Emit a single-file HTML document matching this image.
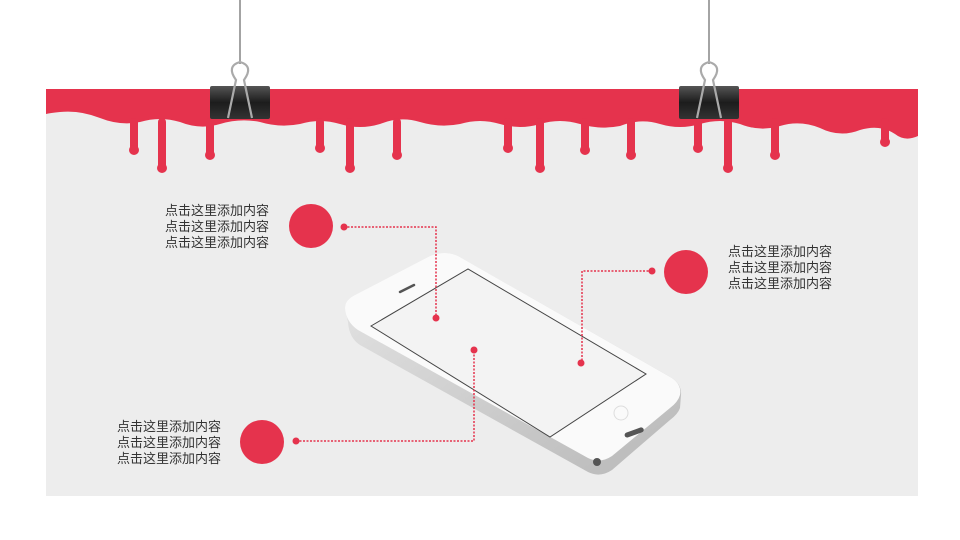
<!DOCTYPE html>
<html><head><meta charset="utf-8"><style>
html,body{margin:0;padding:0;background:#fff;width:960px;height:540px;overflow:hidden}
svg{display:block}
text{font-family:"Liberation Sans","Noto Sans CJK SC",sans-serif;font-size:13px;fill:#333}
</style></head><body>
<svg width="960" height="540" viewBox="0 0 960 540" xmlns="http://www.w3.org/2000/svg">
<defs>
<linearGradient id="clip" x1="0" y1="0" x2="0" y2="1"><stop offset="0" stop-color="#555"/><stop offset="0.5" stop-color="#1c1c1c"/><stop offset="1" stop-color="#333"/></linearGradient>
<linearGradient id="side" x1="0" y1="0" x2="1" y2="1"><stop offset="0" stop-color="#e6e6e6"/><stop offset="1" stop-color="#b8b8b8"/></linearGradient>
</defs>
<rect x="46" y="89" width="872" height="407" fill="#ededed"/>
<g fill="#e5334d">
<path d="M46 89H918V136Q905 142 895 134Q880 124 860 130Q840 138 820 128Q800 120 780 126Q760 132 740 124Q720 118 700 124Q680 130 660 124Q640 118 620 126Q600 130 580 124Q560 118 540 124Q520 130 500 124Q480 118 460 124Q440 128 420 122Q400 116 380 124Q360 130 340 124Q320 118 300 124Q280 128 260 122Q240 118 220 124Q200 130 180 122Q160 116 140 122Q120 126 100 118Q80 110 60 112Q50 113 46 114Z"/>
<g stroke="#e5334d" stroke-width="8" stroke-linecap="round">
<line x1="134" y1="122" x2="134" y2="150"/><line x1="162" y1="122" x2="162" y2="168"/><line x1="210" y1="122" x2="210" y2="155"/>
<line x1="320" y1="122" x2="320" y2="148"/><line x1="350" y1="122" x2="350" y2="168"/><line x1="397" y1="122" x2="397" y2="155"/>
<line x1="508" y1="122" x2="508" y2="148"/><line x1="540" y1="122" x2="540" y2="168"/><line x1="585" y1="122" x2="585" y2="150"/>
<line x1="631" y1="122" x2="631" y2="155"/><line x1="698" y1="122" x2="698" y2="148"/><line x1="728" y1="122" x2="728" y2="168"/>
<line x1="775" y1="122" x2="775" y2="155"/><line x1="885" y1="122" x2="885" y2="142"/>
</g>
<g>
<circle cx="134" cy="150" r="5"/><circle cx="162" cy="168" r="5"/><circle cx="210" cy="155" r="5"/>
<circle cx="320" cy="148" r="5"/><circle cx="350" cy="168" r="5"/><circle cx="397" cy="155" r="5"/>
<circle cx="508" cy="148" r="5"/><circle cx="540" cy="168" r="5"/><circle cx="585" cy="150" r="5"/>
<circle cx="631" cy="155" r="5"/><circle cx="698" cy="148" r="5"/><circle cx="728" cy="168" r="5"/>
<circle cx="775" cy="155" r="5"/><circle cx="885" cy="142" r="5"/>
</g></g>
<g>
<line x1="240" y1="0" x2="240" y2="64" stroke="#666" stroke-width="1.2"/>
<rect x="210" y="86" width="60" height="33" rx="2" fill="url(#clip)"/>
<path d="M228 118L236 80Q226 66 240 62Q254 66 244 80L252 118" fill="none" stroke="#aaa" stroke-width="2.2"/>
<line x1="709" y1="0" x2="709" y2="64" stroke="#666" stroke-width="1.2"/>
<rect x="679" y="86" width="60" height="33" rx="2" fill="url(#clip)"/>
<path d="M697 118L705 80Q695 66 709 62Q723 66 713 80L721 118" fill="none" stroke="#aaa" stroke-width="2.2"/>
</g>
<path d="M348 322L345 308Q345 300 355 295L430 256Q445 250 458 256L672 378Q682 385 681 395L680 408Q678 414 670 420L612 470Q600 478 588 472L360 345Q349 338 348 322Z" fill="url(#side)"/>
<path d="M345 308Q345 300 355 295L430 256Q445 250 458 256L672 378Q682 385 680 395Q678 402 670 408L612 456Q600 464 588 458L358 330Q346 322 345 308Z" fill="#fafafa"/>
<polygon points="371,326 468,269 646,374 550,437" fill="#f3f3f3" stroke="#444" stroke-width="1"/>
<line x1="400" y1="292" x2="414" y2="285" stroke="#555" stroke-width="2.5" stroke-linecap="round"/>
<circle cx="621" cy="413" r="7" fill="none" stroke="#ddd"/>
<rect x="624" y="430" width="20" height="5" rx="2.5" fill="#555" transform="rotate(-20 634 432)"/>
<circle cx="597" cy="462" r="4" fill="#555"/>
<g stroke="#e5334d" stroke-width="1.5" stroke-dasharray="2 1.5" fill="none">
<polyline points="344,227 436,227 436,318"/>
<polyline points="652,271 582,271 582,363"/>
<polyline points="296,441 474,441 474,350"/>
</g>
<g fill="#e5334d">
<circle cx="344" cy="227" r="3.5"/><circle cx="436" cy="318" r="3.5"/>
<circle cx="652" cy="271" r="3.5"/><circle cx="581" cy="363" r="3.5"/>
<circle cx="296" cy="441" r="3.5"/><circle cx="474" cy="350" r="3.5"/>
<circle cx="311" cy="226" r="22"/><circle cx="686" cy="272" r="22"/><circle cx="262" cy="442" r="22"/>
</g>
<g text-anchor="end">
<text x="269" y="215">点击这里添加内容</text><text x="269" y="231">点击这里添加内容</text><text x="269" y="247">点击这里添加内容</text>
<text x="221" y="431">点击这里添加内容</text><text x="221" y="447">点击这里添加内容</text><text x="221" y="463">点击这里添加内容</text>
</g>
<text x="728" y="256">点击这里添加内容</text><text x="728" y="272">点击这里添加内容</text><text x="728" y="288">点击这里添加内容</text>
</svg>
</body></html>
